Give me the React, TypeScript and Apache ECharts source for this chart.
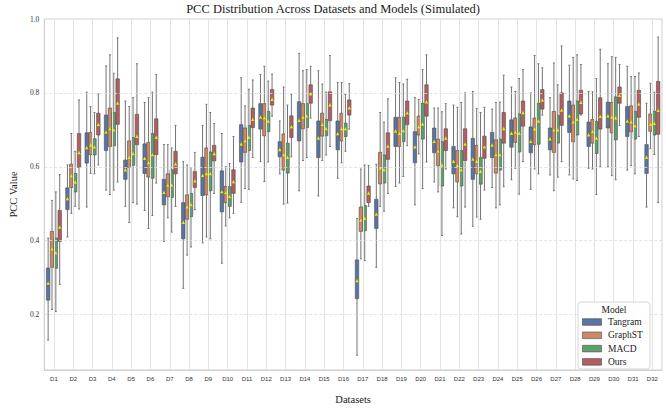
import React, { useEffect, useRef } from "react";
import * as echarts from "echarts";

const datasets = Array.from({ length: 32 }, (_, i) => `D${i + 1}`);
const models = ["Tangram", "GraphST", "MACD", "Ours"];
const modelColors = ["#5975a4", "#cc8963", "#5f9e6e", "#b55d60"];
const yTickLabels = [0.2, 0.4, 0.6, 0.8, 1.0];

// each row: [whiskerLow, q1, median, q3, whiskerHigh, mean]
const tangram = [
  [0.131, 0.239, 0.280, 0.326, 0.407, 0.284],
  [0.410, 0.484, 0.512, 0.543, 0.605, 0.513],
  [0.491, 0.610, 0.652, 0.692, 0.802, 0.651],
  [0.537, 0.644, 0.690, 0.740, 0.873, 0.693],
  [0.493, 0.566, 0.590, 0.618, 0.778, 0.591],
  [0.482, 0.582, 0.620, 0.662, 0.774, 0.622],
  [0.398, 0.497, 0.530, 0.566, 0.660, 0.530],
  [0.271, 0.405, 0.450, 0.503, 0.614, 0.449],
  [0.394, 0.522, 0.575, 0.626, 0.712, 0.576],
  [0.339, 0.478, 0.535, 0.589, 0.690, 0.532],
  [0.504, 0.613, 0.660, 0.714, 0.841, 0.661],
  [0.614, 0.702, 0.735, 0.771, 0.850, 0.734],
  [0.581, 0.627, 0.645, 0.668, 0.724, 0.646],
  [0.535, 0.670, 0.726, 0.776, 0.907, 0.725],
  [0.521, 0.625, 0.676, 0.724, 0.860, 0.677],
  [0.569, 0.646, 0.688, 0.724, 0.828, 0.689],
  [0.090, 0.243, 0.290, 0.348, 0.460, 0.291],
  [0.328, 0.433, 0.470, 0.512, 0.607, 0.471],
  [0.547, 0.655, 0.695, 0.734, 0.841, 0.696],
  [0.497, 0.611, 0.652, 0.695, 0.787, 0.653],
  [0.559, 0.638, 0.668, 0.705, 0.759, 0.668],
  [0.489, 0.581, 0.614, 0.655, 0.767, 0.614],
  [0.439, 0.566, 0.620, 0.677, 0.804, 0.620],
  [0.544, 0.625, 0.657, 0.693, 0.756, 0.658],
  [0.565, 0.653, 0.690, 0.727, 0.816, 0.690],
  [0.539, 0.638, 0.668, 0.708, 0.800, 0.668],
  [0.578, 0.646, 0.675, 0.705, 0.787, 0.675],
  [0.578, 0.693, 0.737, 0.778, 0.875, 0.737],
  [0.596, 0.655, 0.686, 0.721, 0.804, 0.686],
  [0.600, 0.705, 0.737, 0.775, 0.879, 0.737],
  [0.591, 0.682, 0.723, 0.763, 0.872, 0.723],
  [0.491, 0.582, 0.625, 0.660, 0.772, 0.625],
];

const graphST = [
  [0.214, 0.328, 0.376, 0.425, 0.509, 0.377],
  [0.474, 0.544, 0.574, 0.607, 0.690, 0.575],
  [0.582, 0.633, 0.658, 0.693, 0.763, 0.658],
  [0.525, 0.655, 0.703, 0.759, 0.903, 0.703],
  [0.449, 0.598, 0.625, 0.670, 0.763, 0.625],
  [0.433, 0.572, 0.611, 0.666, 0.787, 0.611],
  [0.462, 0.519, 0.550, 0.581, 0.660, 0.550],
  [0.361, 0.458, 0.490, 0.524, 0.605, 0.491],
  [0.410, 0.524, 0.580, 0.651, 0.769, 0.581],
  [0.440, 0.503, 0.530, 0.547, 0.600, 0.530],
  [0.541, 0.639, 0.670, 0.705, 0.765, 0.670],
  [0.560, 0.684, 0.732, 0.771, 0.872, 0.732],
  [0.499, 0.591, 0.632, 0.689, 0.816, 0.632],
  [0.617, 0.703, 0.734, 0.771, 0.860, 0.734],
  [0.617, 0.683, 0.714, 0.745, 0.824, 0.714],
  [0.611, 0.670, 0.703, 0.745, 0.828, 0.703],
  [0.351, 0.425, 0.455, 0.491, 0.594, 0.455],
  [0.493, 0.554, 0.596, 0.639, 0.747, 0.596],
  [0.556, 0.655, 0.690, 0.734, 0.828, 0.690],
  [0.635, 0.686, 0.708, 0.737, 0.782, 0.708],
  [0.532, 0.603, 0.642, 0.675, 0.759, 0.642],
  [0.465, 0.559, 0.603, 0.644, 0.761, 0.603],
  [0.464, 0.581, 0.614, 0.658, 0.758, 0.614],
  [0.489, 0.583, 0.632, 0.673, 0.774, 0.632],
  [0.596, 0.666, 0.693, 0.732, 0.804, 0.693],
  [0.594, 0.660, 0.702, 0.732, 0.901, 0.702],
  [0.535, 0.639, 0.699, 0.750, 0.881, 0.699],
  [0.567, 0.668, 0.721, 0.767, 0.896, 0.721],
  [0.594, 0.664, 0.695, 0.728, 0.803, 0.695],
  [0.576, 0.692, 0.734, 0.774, 0.898, 0.734],
  [0.603, 0.695, 0.721, 0.765, 0.844, 0.721],
  [0.649, 0.696, 0.715, 0.743, 0.826, 0.715],
];

const macd = [
  [0.208, 0.325, 0.367, 0.407, 0.532, 0.367],
  [0.493, 0.532, 0.558, 0.582, 0.642, 0.558],
  [0.581, 0.632, 0.653, 0.676, 0.747, 0.653],
  [0.537, 0.657, 0.699, 0.747, 0.853, 0.699],
  [0.503, 0.604, 0.635, 0.679, 0.787, 0.635],
  [0.468, 0.569, 0.632, 0.690, 0.802, 0.632],
  [0.423, 0.517, 0.550, 0.592, 0.651, 0.550],
  [0.383, 0.465, 0.497, 0.528, 0.598, 0.497],
  [0.405, 0.535, 0.581, 0.640, 0.747, 0.581],
  [0.462, 0.493, 0.519, 0.546, 0.609, 0.519],
  [0.539, 0.644, 0.679, 0.712, 0.810, 0.679],
  [0.613, 0.695, 0.723, 0.750, 0.832, 0.723],
  [0.502, 0.583, 0.625, 0.664, 0.767, 0.625],
  [0.625, 0.706, 0.737, 0.771, 0.863, 0.737],
  [0.632, 0.684, 0.703, 0.728, 0.802, 0.703],
  [0.642, 0.682, 0.702, 0.718, 0.796, 0.702],
  [0.346, 0.427, 0.460, 0.495, 0.605, 0.460],
  [0.480, 0.556, 0.591, 0.632, 0.721, 0.591],
  [0.574, 0.668, 0.697, 0.734, 0.824, 0.697],
  [0.541, 0.675, 0.715, 0.772, 0.863, 0.715],
  [0.414, 0.548, 0.604, 0.668, 0.749, 0.604],
  [0.418, 0.548, 0.591, 0.644, 0.774, 0.591],
  [0.458, 0.553, 0.587, 0.625, 0.747, 0.587],
  [0.497, 0.591, 0.632, 0.675, 0.775, 0.632],
  [0.526, 0.640, 0.690, 0.743, 0.839, 0.690],
  [0.581, 0.661, 0.723, 0.772, 0.879, 0.723],
  [0.572, 0.664, 0.699, 0.739, 0.822, 0.699],
  [0.563, 0.686, 0.728, 0.778, 0.903, 0.728],
  [0.525, 0.636, 0.677, 0.723, 0.839, 0.677],
  [0.565, 0.673, 0.732, 0.789, 0.896, 0.732],
  [0.581, 0.675, 0.710, 0.750, 0.844, 0.710],
  [0.633, 0.686, 0.717, 0.750, 0.802, 0.717],
];

const ours = [
  [0.282, 0.398, 0.436, 0.482, 0.579, 0.436],
  [0.486, 0.598, 0.638, 0.690, 0.781, 0.638],
  [0.605, 0.686, 0.714, 0.745, 0.797, 0.714],
  [0.559, 0.715, 0.772, 0.838, 0.949, 0.772],
  [0.499, 0.660, 0.682, 0.742, 0.879, 0.682],
  [0.556, 0.633, 0.679, 0.730, 0.850, 0.679],
  [0.493, 0.581, 0.607, 0.642, 0.712, 0.607],
  [0.484, 0.544, 0.561, 0.587, 0.639, 0.561],
  [0.528, 0.616, 0.635, 0.658, 0.717, 0.635],
  [0.474, 0.528, 0.559, 0.592, 0.682, 0.559],
  [0.625, 0.706, 0.728, 0.759, 0.835, 0.728],
  [0.737, 0.767, 0.782, 0.809, 0.851, 0.782],
  [0.627, 0.679, 0.708, 0.738, 0.796, 0.708],
  [0.732, 0.772, 0.797, 0.822, 0.872, 0.797],
  [0.655, 0.725, 0.767, 0.803, 0.901, 0.767],
  [0.702, 0.740, 0.759, 0.781, 0.825, 0.759],
  [0.493, 0.503, 0.528, 0.548, 0.604, 0.528],
  [0.528, 0.620, 0.655, 0.692, 0.784, 0.655],
  [0.657, 0.714, 0.745, 0.778, 0.837, 0.745],
  [0.613, 0.737, 0.775, 0.822, 0.903, 0.775],
  [0.594, 0.644, 0.677, 0.703, 0.771, 0.677],
  [0.491, 0.617, 0.661, 0.703, 0.800, 0.661],
  [0.537, 0.623, 0.653, 0.683, 0.761, 0.653],
  [0.546, 0.664, 0.703, 0.747, 0.848, 0.703],
  [0.614, 0.710, 0.746, 0.778, 0.863, 0.746],
  [0.740, 0.756, 0.780, 0.809, 0.868, 0.780],
  [0.614, 0.712, 0.753, 0.800, 0.927, 0.753],
  [0.740, 0.743, 0.774, 0.807, 0.877, 0.774],
  [0.600, 0.702, 0.736, 0.787, 0.918, 0.736],
  [0.712, 0.772, 0.793, 0.816, 0.877, 0.793],
  [0.682, 0.734, 0.769, 0.807, 0.854, 0.769],
  [0.503, 0.688, 0.752, 0.831, 0.951, 0.752],
];

const modelData = [tangram, graphST, macd, ours];

const SERIF = "'Liberation Serif', 'Times New Roman', serif";
const SANS = "'Liberation Sans', Arial, sans-serif";

function makeRenderItem(k: number) {
  return (params: any, api: any) => {
    const i = api.value(0);
    const band = api.size([1, 0])[0];
    const bw = (band * 0.8) / 4;
    const cx = api.coord([i, 0.5])[0] + (k - 1.5) * bw;
    const y = (v: number) => api.coord([i, v])[1];
    const yl = y(api.value(1));
    const yq1 = y(api.value(2));
    const ym = y(api.value(3));
    const yq3 = y(api.value(4));
    const yh = y(api.value(5));
    const ymean = y(api.value(6));
    const color = api.visual("color");
    const wStyle = { stroke: "#737373", lineWidth: 1 };
    const capW = bw * 0.25;
    const t = 2.0;
    return {
      type: "group",
      children: [
        { type: "line", shape: { x1: cx, y1: yl, x2: cx, y2: yq1 }, style: wStyle },
        { type: "line", shape: { x1: cx, y1: yq3, x2: cx, y2: yh }, style: wStyle },
        { type: "line", shape: { x1: cx - capW, y1: yl, x2: cx + capW, y2: yl }, style: wStyle },
        { type: "line", shape: { x1: cx - capW, y1: yh, x2: cx + capW, y2: yh }, style: wStyle },
        {
          type: "rect",
          shape: { x: cx - bw / 2 + 0.2, y: yq3, width: bw - 0.4, height: yq1 - yq3 },
          style: { fill: color, stroke: "#4a4a4a", lineWidth: 0.6 },
        },
        {
          type: "line",
          shape: { x1: cx - bw / 2 + 0.2, y1: ym, x2: cx + bw / 2 - 0.2, y2: ym },
          style: { stroke: "#4a4a4a", lineWidth: 0.7 },
        },
        {
          type: "polygon",
          shape: {
            points: [
              [cx, ymean - t],
              [cx - t * 0.9, ymean + t * 0.7],
              [cx + t * 0.9, ymean + t * 0.7],
            ],
          },
          style: { fill: "#f2ee1f", stroke: "#a09a10", lineWidth: 0.3 },
        },
      ],
    };
  };
}

export default function App() {
  const ref = useRef<HTMLDivElement>(null);
  useEffect(() => {
    if (!ref.current) return;
    const chart = echarts.init(ref.current, null, { renderer: "svg" });

    const boxSeries = models.map((name, k) => ({
      name,
      type: "custom",
      z: 3,
      itemStyle: { color: modelColors[k] },
      encode: { x: 0, y: [1, 2, 3, 4, 5, 6] },
      data: modelData[k].map((row, i) => [i, ...row]),
      renderItem: makeRenderItem(k),
    }));

    const legendX = 578;
    const legendY = 302;
    const rowH = 13.3;
    const legendGraphics: any[] = [
      {
        type: "rect",
        z: 100,
        shape: { x: legendX, y: legendY, width: 72, height: 67, r: 3 },
        style: { fill: "rgba(255,255,255,0.85)", stroke: "#d6d6d6", lineWidth: 1 },
      },
      {
        type: "text",
        z: 101,
        x: legendX + 36,
        y: legendY + 7.5,
        style: {
          text: "Model",
          fontFamily: SERIF,
          fontSize: 9.5,
          fill: "#1a1a1a",
          align: "center",
          verticalAlign: "middle",
        },
      },
    ];
    models.forEach((m, k) => {
      const cy = legendY + 20 + k * rowH;
      legendGraphics.push({
        type: "rect",
        z: 101,
        shape: { x: legendX + 4.5, y: cy - 3.3, width: 19, height: 6.6 },
        style: { fill: modelColors[k], stroke: "#4a4a4a", lineWidth: 0.6 },
      });
      legendGraphics.push({
        type: "text",
        z: 101,
        x: legendX + 30,
        y: cy,
        style: {
          text: m,
          fontFamily: SERIF,
          fontSize: 9.5,
          fill: "#1a1a1a",
          align: "left",
          verticalAlign: "middle",
        },
      });
    });

    const option: any = {
      animation: false,
      backgroundColor: "#ffffff",
      color: modelColors,
      title: {
        text: "PCC Distribution Across Datasets and Models (Simulated)",
        left: "center",
        top: 2,
        padding: 0,
        textStyle: { fontFamily: SERIF, fontSize: 12.5, fontWeight: "normal", color: "#1a1a1a" },
      },
      grid: {
        left: 31,
        right: 4,
        top: 19,
        bottom: 30,
        show: true,
        borderColor: "#cfcfcf",
        borderWidth: 1,
        backgroundColor: "transparent",
      },
      xAxis: {
        type: "category",
        data: datasets,
        boundaryGap: true,
        name: "Datasets",
        nameLocation: "middle",
        nameGap: 24,
        nameTextStyle: { fontFamily: SERIF, fontSize: 10.5, color: "#1a1a1a" },
        axisLine: { show: true, lineStyle: { color: "#cfcfcf" } },
        axisTick: { show: false },
        axisLabel: { fontFamily: SANS, fontSize: 6, color: "#333", margin: 6, interval: 0 },
        splitLine: { show: false },
      },
      yAxis: {
        type: "value",
        min: 0.05,
        max: 1.0,
        name: "PCC Value",
        nameLocation: "middle",
        nameGap: 25,
        nameRotate: 90,
        nameTextStyle: { fontFamily: SERIF, fontSize: 10.5, color: "#1a1a1a" },
        axisLine: { show: true, lineStyle: { color: "#cfcfcf" } },
        axisTick: { show: false },
        axisLabel: {
          customValues: yTickLabels,
          formatter: (v: number) => v.toFixed(1),
          fontFamily: SERIF,
          fontSize: 7.5,
          color: "#333",
          margin: 5,
        },
        splitLine: { show: false },
      },
      graphic: legendGraphics,
      series: [
        {
          type: "line",
          name: "grid",
          data: [],
          z: 1,
          silent: true,
          markLine: {
            silent: true,
            symbol: "none",
            label: { show: false },
            animation: false,
            data: [
              ...datasets.map((d) => ({ xAxis: d, lineStyle: { color: "#e3e3e3", type: "solid", width: 1 } })),
              ...yTickLabels
                .filter((v) => v < 1)
                .map((v) => ({ yAxis: v, lineStyle: { color: "#dcdcdc", type: [3, 2], width: 0.8 } })),
            ],
          },
        },
        ...boxSeries,
      ],
    };
    chart.setOption(option);
    return () => chart.dispose();
  }, []);
  return <div ref={ref} style={{ position: "fixed", left: 0, top: 0, width: 666, height: 410 }} />;
}
